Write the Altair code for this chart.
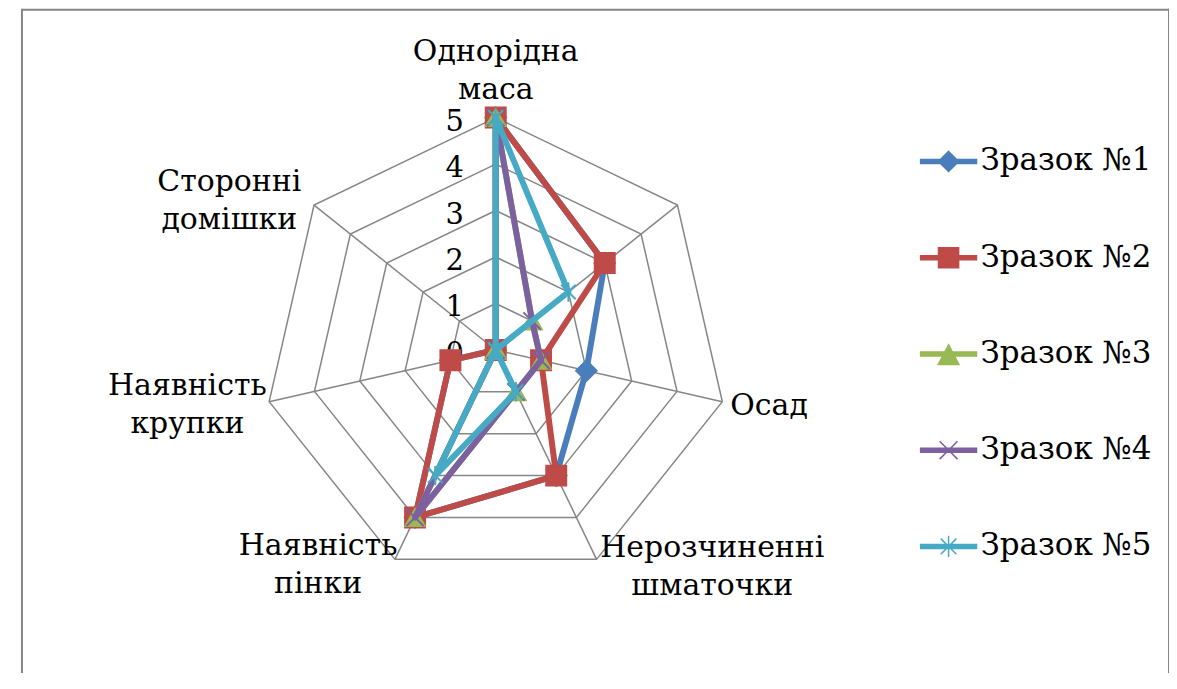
import altair as alt
import pandas as pd

# ---------------- data ----------------
CATEGORIES = [
    "Однорідна\nмаса",
    "",
    "Осад",
    "Нерозчиненні\nшматочки",
    "Наявність\nпінки",
    "Наявність\nкрупки",
    "Сторонні\nдомішки",
]
SERIES = ["Зразок №1", "Зразок №2", "Зразок №3", "Зразок №4", "Зразок №5"]
S1 = [5, 3, 2, 3, 4, 1, 0]
S2 = [5, 3, 1, 3, 4, 1, 0]
S3 = [5, 1, 1, 1, 4, 0, 0]
S4 = [5, 1, 1, 1, 4, 0, 0]
S5 = [5, 2, 0, 1, 3, 0, 0]
VALUES = [S1, S2, S3, S4, S5]
TICKS = [0, 1, 2, 3, 4, 5]
LEVELS = [1, 2, 3, 4, 5]

# ---------------- styles ----------------
COLORS = ["#4A7EBB", "#BE4B48", "#98B954", "#7D60A0", "#46AAC5"]
MARKERS = [
    "diamond",
    "square",
    "triangle-up",
    "M-1,-1L1,1M-1,1L1,-1",
    "M-0.75,-0.75L0.75,0.75M-0.75,0.75L0.75,-0.75M0,-1L0,1",
]
MARKER_SIZES = [420, 400, 380, 300, 380]
LINE = "M-1,-0.07L1,-0.07L1,0.07L-1,0.07Z"
LEGEND_SHAPES = [
    LINE + "M0,-0.36L0.36,0L0,0.36L-0.36,0Z",
    LINE + "M-0.36,-0.36L0.36,-0.36L0.36,0.36L-0.36,0.36Z",
    LINE + "M0,-0.33L0.37,0.38L-0.37,0.38Z",
    LINE + "M-0.32,-0.32L0.32,0.32M-0.32,0.32L0.32,-0.32",
    LINE + "M-0.28,-0.28L0.28,0.28M-0.28,0.28L0.28,-0.28M0,-0.38L0,0.38",
]
FONT = "DejaVu Serif"
GRID = "#868686"

W, H = 1150, 665
UNIT = 46.6
CX, CY = 475, 342
XDOM = [-CX / UNIT, (W - CX) / UNIT]
YDOM = [-(H - CY) / UNIT, CY / UNIT]

N = len(CATEGORIES)

# ---------------- tables ----------------
rows = []
for s, vals in zip(SERIES, VALUES):
    for k in range(N + 1):
        rows.append({"series": s, "k": k, "v": vals[k % N]})
df = pd.DataFrame(rows)

grid = pd.DataFrame([{"level": l, "k": k} for l in LEVELS for k in range(N + 1)])
spokes = pd.DataFrame([{"k": k, "r": max(LEVELS)} for k in range(N)])
cats = pd.DataFrame([{"k": k, "label": c, "r": max(LEVELS)} for k, c in enumerate(CATEGORIES)])
ticks = pd.DataFrame({"t": TICKS, "label": [str(t) for t in TICKS]})

xs = alt.Scale(domain=XDOM, nice=False, zero=False)
ys = alt.Scale(domain=YDOM, nice=False, zero=False)
TH = f"datum.k * 2 * PI / {N}"


def X(f):
    return alt.X(f"{f}:Q", scale=xs, axis=None)


def Y(f):
    return alt.Y(f"{f}:Q", scale=ys, axis=None)


layers = []

layers.append(
    alt.Chart(grid)
    .transform_calculate(gx=f"datum.level * sin({TH})", gy=f"datum.level * cos({TH})")
    .mark_line(color=GRID, strokeWidth=1.5)
    .encode(x=X("gx"), y=Y("gy"), detail="level:N", order="k:Q")
)
layers.append(
    alt.Chart(spokes)
    .transform_calculate(sx=f"datum.r * sin({TH})", sy=f"datum.r * cos({TH})", zx="0", zy="0")
    .mark_rule(color=GRID, strokeWidth=1.5)
    .encode(x=X("zx"), y=Y("zy"), x2="sx:Q", y2="sy:Q")
)

layers.append(
    alt.Chart(ticks)
    .transform_calculate(tx="0")
    .mark_text(font=FONT, fontSize=29, color="black", align="right", baseline="middle", dx=-32, dy=4)
    .encode(x=X("tx"), y=Y("t"), text="label:N")
)

for i, s in enumerate(SERIES):
    base = (
        alt.Chart(df)
        .transform_filter(alt.datum.series == s)
        .transform_calculate(px=f"datum.v * sin({TH})", py=f"datum.v * cos({TH})")
    )
    layers.append(
        base.mark_line(color=COLORS[i], strokeWidth=6, strokeJoin="round", strokeCap="round")
        .encode(x=X("px"), y=Y("py"), order="k:Q")
    )
    layers.append(
        base.transform_filter(alt.datum.k < N)
        .mark_point(
            shape=MARKERS[i],
            filled=True,
            fill=COLORS[i],
            stroke=COLORS[i],
            strokeWidth=2,
            size=MARKER_SIZES[i],
            opacity=1,
        )
        .encode(x=X("px"), y=Y("py"))
    )

LABEL_STYLE = {
    0: dict(align="center", dx=0, dy=-57),
    2: dict(align="left", dx=8, dy=13),
    3: dict(align="center", dx=116, dy=-2),
    4: dict(align="center", dx=-77, dy=-4),
    5: dict(align="center", dx=-82, dy=-7),
    6: dict(align="center", dx=-85, dy=-14),
}
for k, st in LABEL_STYLE.items():
    layers.append(
        alt.Chart(cats)
        .transform_filter(alt.datum.k == k)
        .transform_calculate(lx=f"datum.r * sin({TH})", ly=f"datum.r * cos({TH})")
        .mark_text(
            font=FONT,
            fontSize=30,
            color="black",
            baseline="alphabetic",
            lineBreak="\n",
            lineHeight=38,
            **st,
        )
        .encode(x=X("lx"), y=Y("ly"), text="label:N")
    )

leg = alt.Legend(
    title=None,
    orient="none",
    legendX=900,
    legendY=124,
    symbolSize=3136,
    symbolStrokeWidth=1.5,
    labelFont=FONT,
    labelFontSize=31,
    labelColor="black",
    labelOffset=3,
    labelLimit=500,
    rowPadding=52.5,
    padding=0,
)
legend_layer = (
    alt.Chart(pd.DataFrame({"series": SERIES}))
    .transform_filter("false")
    .mark_point(filled=True, opacity=1)
    .encode(
        shape=alt.Shape("series:N", scale=alt.Scale(domain=SERIES, range=LEGEND_SHAPES), legend=leg),
        fill=alt.Fill("series:N", scale=alt.Scale(domain=SERIES, range=COLORS), legend=leg),
        stroke=alt.Stroke("series:N", scale=alt.Scale(domain=SERIES, range=COLORS), legend=leg),
    )
)
layers.append(legend_layer)

frame = alt.Chart(pd.DataFrame({"a": [0]}))
layers.append(frame.mark_rule(color=GRID, strokeWidth=2).encode(x=alt.value(0), y=alt.value(0), y2=alt.value(H + 20)))
layers.append(frame.mark_rule(color=GRID, strokeWidth=2).encode(x=alt.value(W), y=alt.value(0), y2=alt.value(H + 20)))
layers.append(frame.mark_rule(color=GRID, strokeWidth=2).encode(x=alt.value(0), x2=alt.value(W), y=alt.value(1)))

chart = (
    alt.layer(*layers)
    .properties(
        width=W,
        height=H,
        padding={"left": 14, "top": 0, "right": 0, "bottom": 0},
        autosize=alt.AutoSizeParams(type="none"),
        background="white",
    )
    .configure_view(stroke=None)
)

chart.save("out.html", embed_options={"renderer": "svg", "actions": False})
